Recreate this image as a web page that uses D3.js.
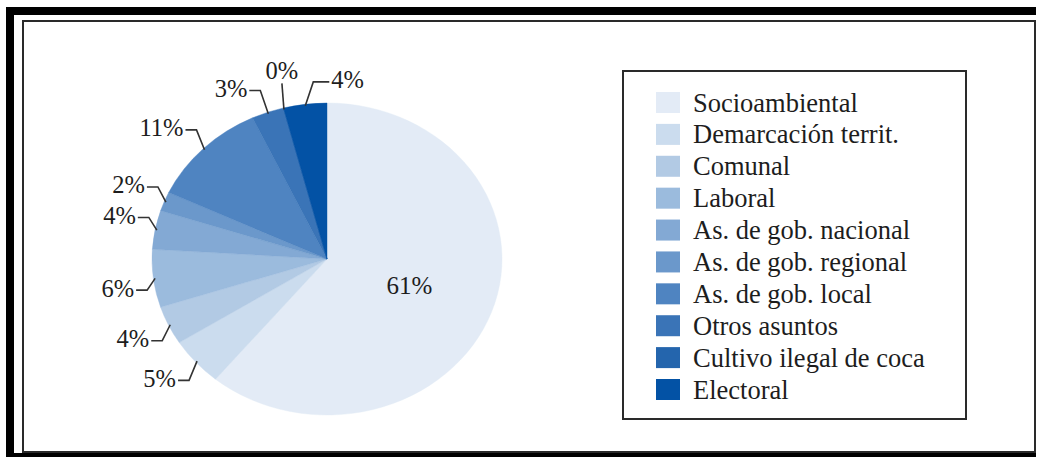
<!DOCTYPE html>
<html>
<head>
<meta charset="utf-8">
<script src="https://cdn.jsdelivr.net/npm/d3@7"></script>
<style>
  html, body { margin: 0; padding: 0; background: #fff; }
  svg { display: block; }
  svg text { font-family: 'Liberation Serif', 'Times New Roman', Tinos, serif !important; }
</style>
</head>
<body>
<svg id="chart" width="1039" height="457"></svg>
<script>
// Conflict categories and their share (%)
const categories = [
  "Socioambiental",
  "Demarcación territ.",
  "Comunal",
  "Laboral",
  "As. de gob. nacional",
  "As. de gob. regional",
  "As. de gob. local",
  "Otros asuntos",
  "Cultivo ilegal de coca",
  "Electoral"
];
const shares = [61, 5, 4, 6, 4, 2, 11, 3, 0, 4];
const shareLabels = ["61%", "5%", "4%", "6%", "4%", "2%", "11%", "3%", "0%", "4%"];
const palette = [
  "#e3ebf6", "#cbdcee", "#b2cae4", "#9bbbdd", "#83a9d4",
  "#6b98cb", "#4f84c1", "#3a74b7", "#2465ad", "#0352a5"
];

const FONT = "'Liberation Serif', 'Times New Roman', Tinos, serif";
const svg = d3.select("#chart");

function addText(x, y, str, size, anchor, baseline) {
  const t = svg.append("text")
    .attr("x", x).attr("y", y)
    .attr("font-family", FONT)
    .attr("font-size", size)
    .attr("fill", "#1d1d1d")
    .attr("text-anchor", anchor || "start")
    .text(str);
  t.style("font-family", FONT, "important");
  if (baseline) t.attr("dominant-baseline", baseline);
  return t;
}

// Double frame
svg.append("rect").attr("x", 6).attr("y", 7).attr("width", 1030).attr("height", 8).attr("fill", "#000");
svg.append("rect").attr("x", 6).attr("y", 7).attr("width", 8).attr("height", 450).attr("fill", "#000");
svg.append("rect").attr("x", 6).attr("y", 453).attr("width", 1030).attr("height", 4).attr("fill", "#000");
svg.append("rect").attr("x", 23).attr("y", 21).attr("width", 1012).attr("height", 431)
  .attr("fill", "none").attr("stroke", "#2a2a2a").attr("stroke-width", 2);

// Pie (drawn on a circle, stretched horizontally into an ellipse)
const cx = 327, cy = 259, rx = 175, ry = 156;
const color = d3.scaleOrdinal().domain(categories).range(palette);
const data = categories.map((c, i) => ({ cat: c, v: shares[i], label: shareLabels[i] }));
const pie = d3.pie().value(d => d.v).sort(null);
const arcs = pie(data);
const arc = d3.arc().innerRadius(0).outerRadius(ry);

const pieG = svg.append("g")
  .attr("transform", `translate(${cx},${cy}) scale(${rx / ry},1)`);
pieG.selectAll("path").data(arcs).enter().append("path")
  .attr("d", arc)
  .attr("fill", d => color(d.data.cat))
  .attr("stroke", d => color(d.data.cat))
  .attr("stroke-width", 0.4);

// Label placement: which side each leader line turns to (-1 left, 1 right, 0 straight up)
const side = { "Electoral": 1, "Cultivo ilegal de coca": 0 };

arcs.forEach((d, i) => {
  const a = (d.startAngle + d.endAngle) / 2;
  const s = Math.sin(a), c = Math.cos(a);
  if (i === 0) {
    addText(cx + rx * 0.5 * s, cy - ry * 0.5 * c, d.data.label, 25, "middle", "central");
    return;
  }
  const dir = side[d.data.cat] !== undefined ? side[d.data.cat] : -1;
  const p0 = [cx + rx * 0.99 * s, cy - ry * 0.99 * c];
  let pts, tx, ty, anchor;
  if (dir === 0) {
    const e = [p0[0] - 2, p0[1] - 26];
    pts = [p0, e];
    tx = e[0]; ty = e[1] - 13; anchor = "middle";
  } else {
    const dy = -Math.sign(c) * (10 + 14 * Math.abs(c));
    const e = [p0[0] + dir * 8, p0[1] + dy];
    const q = [e[0] + dir * (dir > 0 ? 16 : 11), e[1]];
    pts = [p0, e, q];
    tx = q[0] + dir * 2; ty = e[1] - 2; anchor = dir < 0 ? "end" : "start";
  }
  svg.append("path")
    .attr("d", d3.line()(pts))
    .attr("fill", "none")
    .attr("stroke", "#333")
    .attr("stroke-width", 1.6);
  addText(tx, ty, d.data.label, 24.5, anchor, "central");
});

// Legend
svg.append("rect").attr("x", 623).attr("y", 71).attr("width", 343).attr("height", 348)
  .attr("fill", "#fff").attr("stroke", "#2a2a2a").attr("stroke-width", 2);
const rowY = d3.scaleLinear().domain([0, categories.length - 1]).range([92, 379]);
categories.forEach((cat, i) => {
  svg.append("rect").attr("x", 656).attr("y", rowY(i)).attr("width", 24).attr("height", 21)
    .attr("fill", color(cat));
  addText(693, rowY(i) + 19.5, cat, 26.5, "start");
});
</script>
</body>
</html>
